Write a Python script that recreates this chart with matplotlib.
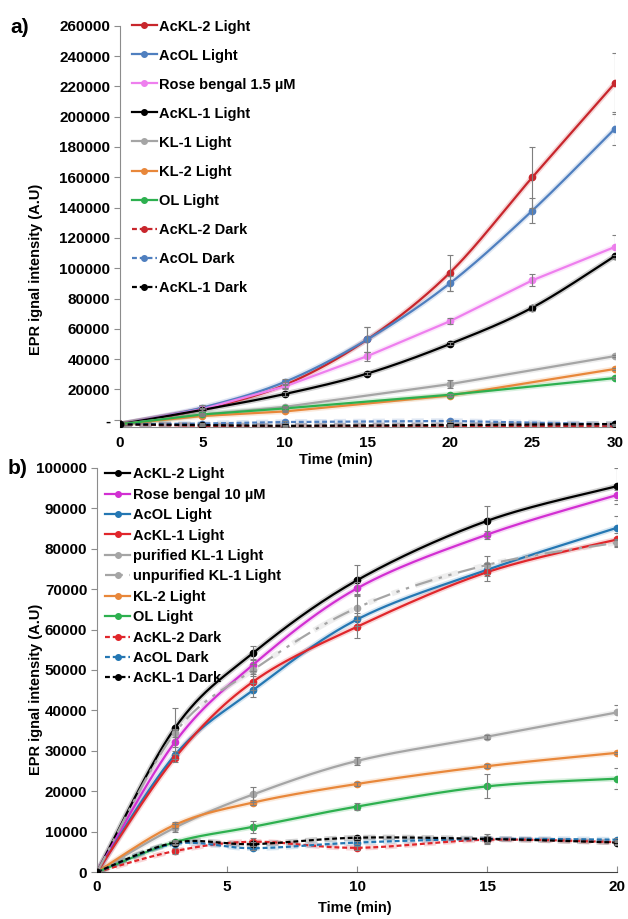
import numpy as np
import matplotlib

matplotlib.use("Agg")
import matplotlib.pyplot as plt
from matplotlib.lines import Line2D
from matplotlib.ticker import FuncFormatter

plt.rcParams["font.family"] = ["Liberation Sans", "DejaVu Sans"]
plt.rcParams["font.weight"] = "bold"

# ---- panel a data ----
time_a = [0, 5, 10, 15, 20, 25, 30]
time_a_short = [0, 5, 10, 20, 30]

a_ackl2_light = [-3000, 7000, 23000, 53000, 97000, 160000, 222000]
a_ackl2_light_err = [0, 3000, 2000, 8000, 12000, 20000, 20000]
a_acol_light = [-3000, 8000, 25000, 53000, 90000, 138000, 192000]
a_acol_light_err = [0, 2000, 2000, 8000, 5000, 8000, 11000]
a_rose = [-3000, 7000, 22000, 42000, 65000, 92000, 114000]
a_rose_err = [0, 1000, 1500, 3000, 2000, 4000, 8000]
a_ackl1_light = [-3000, 6500, 17000, 30500, 50000, 74000, 108000]
a_ackl1_light_err = [0, 500, 1000, 1000, 1000, 2000, 1000]

a_kl1_light = [-3000, 3500, 8500, 23500, 42000]
a_kl1_light_err = [0, 500, 800, 2500, 800]
a_kl2_light = [-3000, 2500, 5500, 16000, 33500]
a_kl2_light_err = [0, 300, 500, 800, 800]
a_ol_light = [-3000, 3500, 7500, 16500, 27500]
a_ol_light_err = [0, 800, 1000, 800, 800]

a_ackl2_dark = [-3000, -4000, -4500, -4200, -4000]
a_acol_dark = [-3000, -2500, -1500, -800, -3000]
a_ackl1_dark = [-3000, -3500, -4000, -3500, -2800]
a_dark_err = [0, 300, 500, 800, 300]

# ---- panel b data ----
time_b = [0, 3, 6, 10, 15, 20]

b_ackl2_light = [0, 35700, 54200, 72200, 86900, 95500]
b_ackl2_light_err = [0, 4800, 1700, 3700, 3800, 4500]
b_rose = [0, 32200, 51300, 70200, 83500, 93300]
b_rose_err = [0, 3000, 1500, 1500, 1000, 1200]
b_acol_light = [0, 29000, 45000, 62500, 74800, 85200]
b_acol_light_err = [0, 1000, 1800, 1500, 1500, 3000]
b_ackl1_light = [0, 28300, 47100, 60700, 74200, 82300]
b_ackl1_light_err = [0, 1000, 2000, 2700, 2200, 1500]
b_pur_kl1 = [0, 11000, 19200, 27500, 33500, 39500]
b_pur_kl1_err = [0, 1000, 1800, 1000, 500, 1800]
b_unpur_kl1 = [0, 34500, 50000, 65400, 76000, 81500]
b_unpur_kl1_err = [0, 1000, 1500, 3000, 2300, 1000]
b_kl2_light = [0, 11700, 17200, 21800, 26200, 29500]
b_kl2_light_err = [0, 800, 700, 500, 500, 300]
b_ol_light = [0, 7400, 11200, 16200, 21200, 23100]
b_ol_light_err = [0, 500, 1500, 800, 3000, 2600]
b_ackl2_dark = [0, 5200, 7500, 6000, 8000, 7400]
b_ackl2_dark_err = [0, 700, 1000, 500, 800, 500]
b_acol_dark = [0, 7000, 5900, 7300, 8200, 8000]
b_acol_dark_err = [0, 400, 500, 400, 800, 500]
b_ackl1_dark = [0, 7300, 6900, 8500, 8200, 7300]
b_ackl1_dark_err = [0, 400, 500, 400, 1300, 500]

DASH = (0, (2.2, 1.3))
DASHDOT = (0, (8, 3, 1.5, 3, 1.5, 3))


def smooth(x, y, n=30):
    # Excel-style smoothed line (Catmull-Rom bezier through the points)
    p = np.column_stack([x, y]).astype(float)
    if len(p) < 3:
        return p[:, 0], p[:, 1]
    ext = np.vstack([p[0], p, p[-1]])
    out = []
    s = np.linspace(0, 1, n)[:, None]
    for i in range(1, len(ext) - 2):
        p0, p1, p2, p3 = ext[i - 1], ext[i], ext[i + 1], ext[i + 2]
        c1 = p1 + (p2 - p0) / 6
        c2 = p2 - (p3 - p1) / 6
        seg = (1 - s) ** 3 * p1 + 3 * (1 - s) ** 2 * s * c1 + 3 * (1 - s) * s ** 2 * c2 + s ** 3 * p2
        out.append(seg if i == 1 else seg[1:])
    out = np.vstack(out)
    return out[:, 0], out[:, 1]


def draw(ax, x, y, err, color, ls="-", curve=True, z=3):
    if curve:
        sx, sy = smooth(x, y)
    else:
        sx, sy = x, y
    ax.plot(sx, sy, color=color, lw=4, alpha=0.18, ls=ls, zorder=z - 1)
    ax.plot(sx, sy, color=color, lw=1.6, ls=ls, zorder=z)
    ax.plot(x, y, ls="none", marker="o", ms=4.5, color=color, zorder=z + 0.1)
    if err is not None:
        ex = [xi for xi, e in zip(x, err) if e > 0]
        ey = [yi for yi, e in zip(y, err) if e > 0]
        ee = [e for e in err if e > 0]
        ax.errorbar(ex, ey, yerr=ee, fmt="none", ecolor="#7f7f7f", elinewidth=0.8,
                    capsize=2, capthick=0.8, zorder=z + 0.2)
    return Line2D([], [], color=color, lw=1.6, ls=ls, marker="o", ms=4)


def style_axes(ax):
    for side in ["top", "right"]:
        ax.spines[side].set_visible(False)
    ax.spines["left"].set_color("#8c8c8c")
    ax.spines["bottom"].set_color("#8c8c8c")
    ax.tick_params(axis="y", direction="out", length=4, color="#8c8c8c", labelsize=11, pad=3)
    ax.tick_params(axis="x", direction="in", length=4, color="#8c8c8c", labelsize=11, pad=6)
    for lab in ax.get_xticklabels() + ax.get_yticklabels():
        lab.set_fontweight("bold")


fig = plt.figure(figsize=(6.28, 9.19), dpi=100)

# ---- panel a ----
ax1 = fig.add_axes([0.191, 0.535, 0.788, 0.437])
red_a = "#c8262c"
blue_a = "#4f7fbf"
violet = "#ee7fee"
gray = "#a5a5a5"
orange = "#e8873a"
green = "#2db04f"

h = []
h.append(draw(ax1, time_a, a_ackl2_light, a_ackl2_light_err, red_a))
h.append(draw(ax1, time_a, a_acol_light, a_acol_light_err, blue_a))
h.append(draw(ax1, time_a, a_rose, a_rose_err, violet, curve=False))
h.append(draw(ax1, time_a, a_ackl1_light, a_ackl1_light_err, "black"))
h.append(draw(ax1, time_a_short, a_kl1_light, a_kl1_light_err, gray, curve=False))
h.append(draw(ax1, time_a_short, a_kl2_light, a_kl2_light_err, orange, curve=False))
h.append(draw(ax1, time_a_short, a_ol_light, a_ol_light_err, green, curve=False))
h.append(draw(ax1, time_a_short, a_ackl2_dark, a_dark_err, red_a, ls=DASH, curve=False))
h.append(draw(ax1, time_a_short, a_acol_dark, a_dark_err, blue_a, ls=DASH, curve=False))
h.append(draw(ax1, time_a_short, a_ackl1_dark, a_dark_err, "black", ls=DASH, curve=False))
labels_a = ["AcKL-2 Light", "AcOL Light", "Rose bengal 1.5 µM", "AcKL-1 Light", "KL-1 Light",
            "KL-2 Light", "OL Light", "AcKL-2 Dark", "AcOL Dark", "AcKL-1 Dark"]

ax1.set_xlim(0, 30)
ax1.set_ylim(-5000, 260000)
ax1.set_xticks(range(0, 31, 5))
ax1.set_yticks(range(0, 260001, 20000))
ax1.yaxis.set_major_formatter(FuncFormatter(lambda v, p: "-" if v == 0 else f"{int(v)}"))
style_axes(ax1)
ax1.tick_params(axis="x", length=0)
ax1.legend(h, labels_a, loc="upper left", bbox_to_anchor=(0.012, 1.03), frameon=False,
           prop={"weight": "bold", "size": 10.5}, labelspacing=1.03, handlelength=1.75,
           handletextpad=0.15, borderaxespad=0)

fig.text(0.016, 0.97, "a)", fontsize=15, fontweight="bold", ha="left", va="center")
fig.text(0.057, 0.707, "EPR ignal intensity (A.U)", rotation=90, fontsize=10.5,
         fontweight="bold", ha="center", va="center")
fig.text(0.535, 0.499, "Time (min)", fontsize=10.5, fontweight="bold", ha="center", va="center")

# ---- panel b ----
ax2 = fig.add_axes([0.1545, 0.0511, 0.828, 0.4397])
red_b = "#e0262b"
blue_b = "#2477b3"
magenta = "#d22fd2"

h2 = []
h2.append(draw(ax2, time_b, b_ackl2_light, b_ackl2_light_err, "black"))
h2.append(draw(ax2, time_b, b_rose, b_rose_err, magenta))
h2.append(draw(ax2, time_b, b_acol_light, b_acol_light_err, blue_b))
h2.append(draw(ax2, time_b, b_ackl1_light, b_ackl1_light_err, red_b))
h2.append(draw(ax2, time_b, b_pur_kl1, b_pur_kl1_err, gray))
h2.append(draw(ax2, time_b, b_unpur_kl1, b_unpur_kl1_err, gray, ls=DASHDOT))
h2.append(draw(ax2, time_b, b_kl2_light, b_kl2_light_err, orange))
h2.append(draw(ax2, time_b, b_ol_light, b_ol_light_err, green))
h2.append(draw(ax2, time_b, b_ackl2_dark, b_ackl2_dark_err, red_b, ls=DASH))
h2.append(draw(ax2, time_b, b_acol_dark, b_acol_dark_err, blue_b, ls=DASH))
h2.append(draw(ax2, time_b, b_ackl1_dark, b_ackl1_dark_err, "black", ls=DASH))
labels_b = ["AcKL-2 Light", "Rose bengal 10 µM", "AcOL Light", "AcKL-1 Light", "purified KL-1 Light",
            "unpurified KL-1 Light", "KL-2 Light", "OL Light", "AcKL-2 Dark", "AcOL Dark", "AcKL-1 Dark"]

ax2.set_xlim(0, 20)
ax2.set_ylim(0, 100000)
ax2.set_xticks(range(0, 21, 5))
ax2.set_yticks(range(0, 100001, 10000))
style_axes(ax2)
ax2.spines["bottom"].set_color("#404040")
ax2.legend(h2, labels_b, loc="upper left", bbox_to_anchor=(0.004, 1.016), frameon=False,
           prop={"weight": "bold", "size": 10.5}, labelspacing=0.44, handlelength=1.75,
           handletextpad=0.15, borderaxespad=0)

fig.text(0.012, 0.49, "b)", fontsize=15, fontweight="bold", ha="left", va="center")
fig.text(0.057, 0.25, "EPR ignal intensity (A.U)", rotation=90, fontsize=10.5,
         fontweight="bold", ha="center", va="center")
fig.text(0.565, 0.012, "Time (min)", fontsize=10.5, fontweight="bold", ha="center", va="center")

fig.savefig("out.png", dpi=100)
